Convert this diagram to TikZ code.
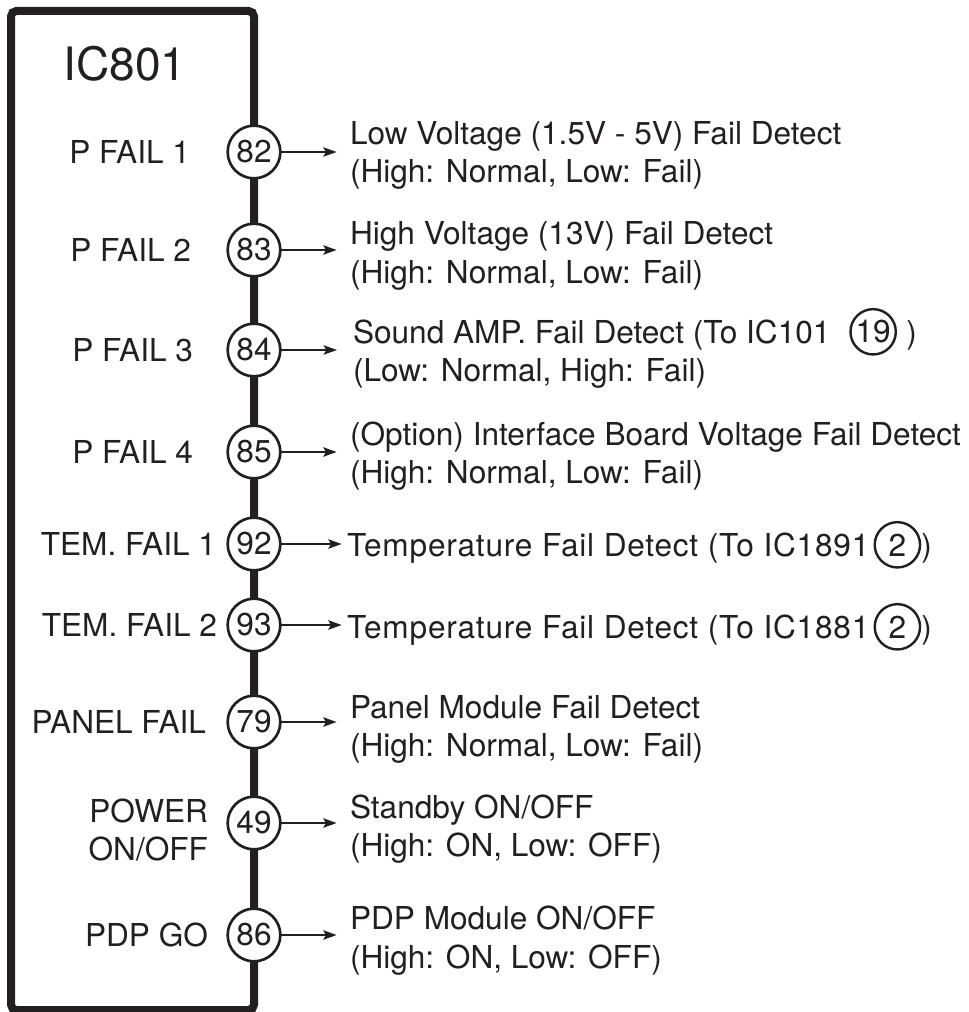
\documentclass[tikz,border=0pt]{standalone}
\usepackage{fontspec}
\setmainfont{TeX Gyre Heros}
\usetikzlibrary{arrows.meta}
\definecolor{ink}{HTML}{231F20}
\begin{document}
\begin{tikzpicture}[x=0.75pt,y=-0.75pt,
  every node/.style={inner sep=0pt, outer sep=0pt, text=ink, font=\fontsize{23.7pt}{28.5pt}\selectfont},
  pin/.style={circle, draw=ink, line width=2pt, fill=white, minimum size=39.5pt},
  refc/.style={circle, draw=ink, line width=1.8pt, minimum size=34pt, anchor=west},
  lab/.style={anchor=east},
  desc/.style={anchor=base west},
  wide/.style={font=\fontsize{23.7pt}{28.5pt}\selectfont\addfontfeature{LetterSpace=2.5}},
  arr/.style={draw=ink, line width=1.5pt, -{Stealth[length=10pt,width=7pt,inset=2pt]}, shorten >=10pt}
]
\useasboundingbox (0,0) rectangle (969,1012);
\draw[ink, line width=6pt, rounded corners=4pt] (11,1010) -- (11,11) -- (254,11) -- (254,1010) -- cycle;

\node[font=\fontsize{34.5pt}{40pt}\selectfont] (title) at (125,64) {IC801};

% pins
\node[pin] (c82) at (254,152) {82};
\node[pin] (c83) at (254,250) {83};
\node[pin] (c84) at (254,350) {84};
\node[pin] (c85) at (254,452) {85};
\node[pin] (c92) at (254,544) {92};
\node[pin] (c93) at (254,625) {93};
\node[pin] (c79) at (254,722) {79};
\node[pin] (c49) at (254,823) {49};
\node[pin] (c86) at (254,935) {86};

% pin labels
\node[lab] (l82) at (190,152) {P FAIL 1};
\node[lab] (l83) at (191,250) {P FAIL 2};
\node[lab] (l84) at (193,350) {P FAIL 3};
\node[lab] (l85) at (193,452) {P FAIL 4};
\node[lab] (l92) at (216,544) {TEM. FAIL 1};
\node[lab] (l93) at (217,625) {TEM. FAIL 2};
\node[lab] (l79) at (206,722) {PANEL FAIL};
\node[anchor=base east] (l49a) at (208,822) {POWER};
\node[anchor=base east] (l49b) at (208,860) {ON/OFF};
\node[lab] (l86) at (208,935) {PDP GO};

% descriptions
\node[desc] (t82a) at (350,145) {Low Voltage (1.5V - 5V) Fail Detect};
\node[desc] (t82b) at (350,183) {(High: Normal, Low: Fail)};
\node[desc] (t83a) at (350,245) {High Voltage (13V) Fail Detect};
\node[desc] (t83b) at (350,283) {(High: Normal, Low: Fail)};
\node[desc] (t84a) at (353,343) {Sound AMP. Fail Detect (To IC101};
\node[refc] (r84) at ([xshift=15pt,yshift=8.4pt]t84a.base east) {19};
\node[desc] (p84) at ([xshift=8pt,yshift=-8.4pt]r84.east) {)};
\node[desc] (t84b) at (353,381) {(Low: Normal, High: Fail)};
\node[desc] (t85a) at (350,445) {(Option) Interface Board Voltage Fail Detect};
\node[desc] (t85b) at (350,483) {(High: Normal, Low: Fail)};
\node[desc, wide] (t92a) at (347,556) {Temperature Fail Detect (To IC1891};
\node[refc] (r92) at ([xshift=4pt,yshift=8.4pt]t92a.base east) {2};
\node[desc] (p92) at ([xshift=1pt,yshift=-8.4pt]r92.east) {)};
\node[desc, wide] (t93a) at (347,638) {Temperature Fail Detect (To IC1881};
\node[refc] (r93) at ([xshift=4pt,yshift=8.4pt]t93a.base east) {2};
\node[desc] (p93) at ([xshift=1pt,yshift=-8.4pt]r93.east) {)};
\node[desc] (t79a) at (350,718) {Panel Module Fail Detect};
\node[desc] (t79b) at (350,756) {(High: Normal, Low: Fail)};
\node[desc] (t49a) at (350,818) {Standby ON/OFF};
\node[desc] (t49b) at (350,856) {(High: ON, Low: OFF)};
\node[desc] (t86a) at (350,929) {PDP Module ON/OFF};
\node[desc] (t86b) at (350,968) {(High: ON, Low: OFF)};

% connectors
\draw[arr] (c82) -- (c82 -| t82a.west);
\draw[arr] (c83) -- (c83 -| t83a.west);
\draw[arr, shorten >=12pt] (c84) -- (c84 -| t84a.west);
\draw[arr] (c85) -- (c85 -| t85a.west);
\draw[arr, shorten >=4pt] (c92) -- (c92 -| t92a.west);
\draw[arr, shorten >=4pt] (c93) -- (c93 -| t93a.west);
\draw[arr] (c79) -- (c79 -| t79a.west);
\draw[arr] (c49) -- (c49 -| t49a.west);
\draw[arr] (c86) -- (c86 -| t86a.west);
\end{tikzpicture}
\end{document}
